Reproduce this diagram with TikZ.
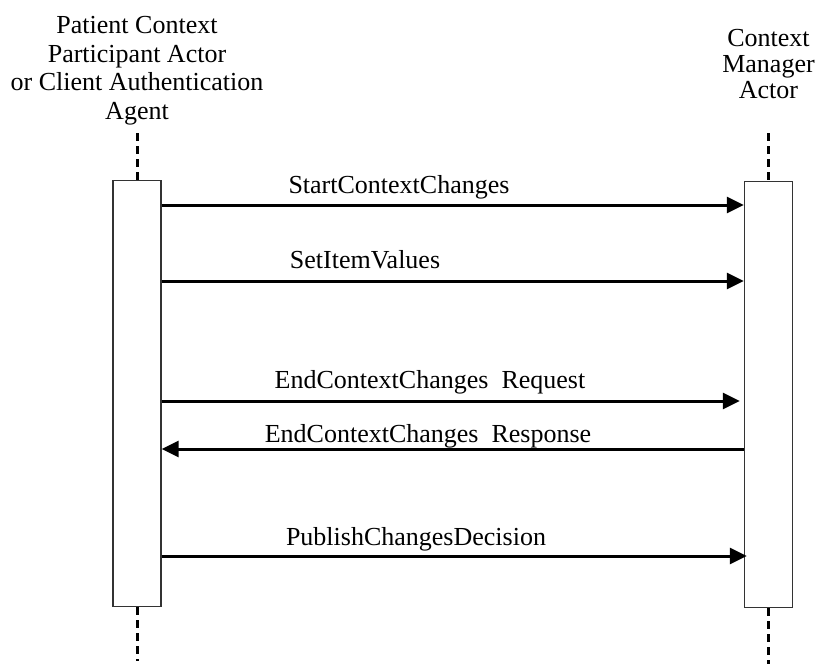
\documentclass[tikz,border=0pt]{standalone}
\usepackage{fontspec}
\setmainfont{Liberation Serif}
\usetikzlibrary{arrows.meta}

\begin{document}
\begin{tikzpicture}[x=1pt,y=-1pt,
    actor/.style={align=center,inner sep=0pt,anchor=north},
    bar/.style={draw=black!80,line width=1.3pt,fill=white,minimum width=48pt,minimum height=426pt,inner sep=0pt},
    life/.style={line width=3pt,dash pattern=on 8pt off 5pt},
    msg/.style={line width=3pt,-{Triangle[length=17pt,width=16pt]}},
    msglabel/.style={anchor=base,inner sep=0pt,font=\fontsize{26}{28}\selectfont}]
    \useasboundingbox (0,0) rectangle (817,664);
    \node[actor,font=\fontsize{26}{28.7}\selectfont] (pcp) at (137,16) {Patient Context\\Participant Actor\\or Client Authentication\\Agent};
    \node[actor,font=\fontsize{26}{26}\selectfont] (cma) at (768.5,29) {Context\\Manager\\Actor};
    \node[bar] (pcpbar) at (137,393.5) {};
    \node[bar] (cmabar) at (768.5,394.5) {};
    \coordinate (pcptop) at (137,133);
    \coordinate (pcpend) at (137,661);
    \coordinate (cmatop) at (768.5,133);
    \coordinate (cmaend) at (768.5,664);
    \draw[life] (pcptop) -- (pcpbar.north);
    \draw[life] (pcpbar.south) -- (pcpend);
    \draw[life] (cmatop) -- (cmabar.north);
    \draw[life] (cmabar.south) -- (cmaend);

    \draw[msg] (pcpbar.east |- 0,205) -- (cmabar.west |- 0,205);
    \node[msglabel] (start) at (399,193) {StartContextChanges};
    \draw[msg] (pcpbar.east |- 0,281) -- (cmabar.west |- 0,281);
    \node[msglabel] (setitem) at (365,268) {SetItemValues};
    \draw[msg,shorten >=4pt] (pcpbar.east |- 0,401) -- (cmabar.west |- 0,401);
    \node[msglabel] (endreq) at (430,388) {EndContextChanges\ \ Request};
    \draw[msg] (cmabar.west |- 0,449) -- (pcpbar.east |- 0,449);
    \node[msglabel] (endresp) at (428,442) {EndContextChanges\ \ Response};
    \draw[msg,shorten >=-3pt] (pcpbar.east |- 0,556) -- (cmabar.west |- 0,556);
    \node[msglabel] (publish) at (416,545) {PublishChangesDecision};
\end{tikzpicture}
\end{document}
